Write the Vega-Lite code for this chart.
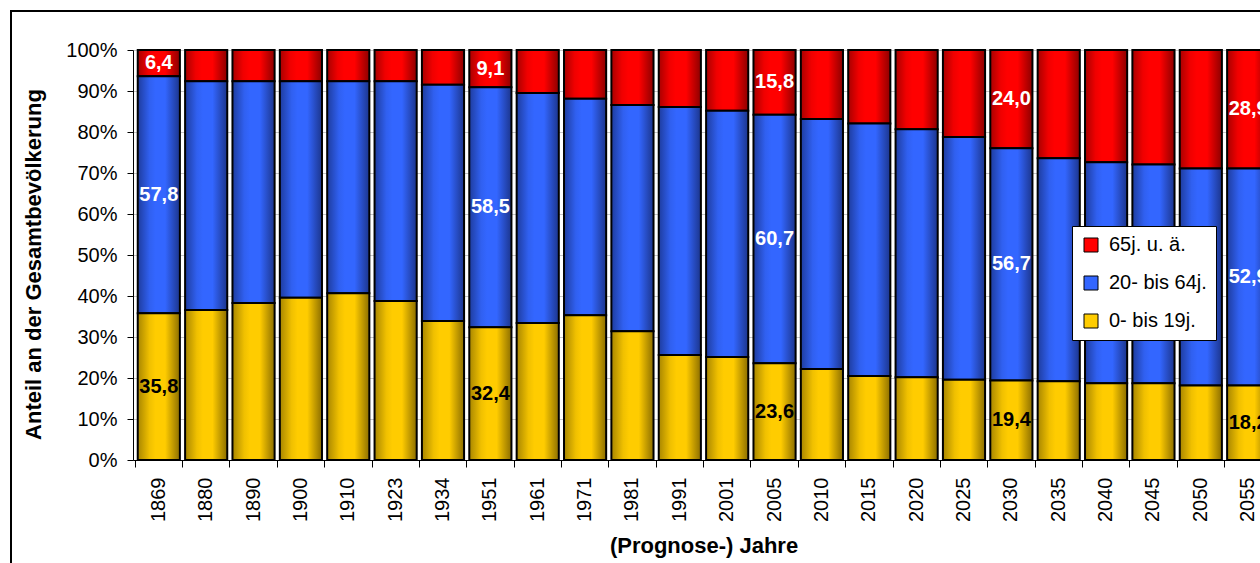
{
  "$schema": "https://vega.github.io/schema/vega-lite/v6.json",
  "autosize": {"type": "none"},
  "padding": {"left": 11, "top": 11, "right": -11, "bottom": -8},
  "width": 1260,
  "height": 560,
  "background": "white",
  "config": {
    "font": "Liberation Sans",
    "locale": {"number": {"decimal": ",", "thousands": ".", "grouping": [3], "currency": ["", " €"]}},
    "view": {"stroke": "black", "strokeWidth": 2, "fill": "white"}
  },
  "data": {"values": [
    {"year": "1869", "group": "0- bis 19j.", "value": 35.8}, {"year": "1869", "group": "20- bis 64j.", "value": 57.8}, {"year": "1869", "group": "65j. u. ä.", "value": 6.4},
    {"year": "1880", "group": "0- bis 19j.", "value": 36.6}, {"year": "1880", "group": "20- bis 64j.", "value": 55.8}, {"year": "1880", "group": "65j. u. ä.", "value": 7.6},
    {"year": "1890", "group": "0- bis 19j.", "value": 38.3}, {"year": "1890", "group": "20- bis 64j.", "value": 54.1}, {"year": "1890", "group": "65j. u. ä.", "value": 7.6},
    {"year": "1900", "group": "0- bis 19j.", "value": 39.6}, {"year": "1900", "group": "20- bis 64j.", "value": 52.8}, {"year": "1900", "group": "65j. u. ä.", "value": 7.6},
    {"year": "1910", "group": "0- bis 19j.", "value": 40.7}, {"year": "1910", "group": "20- bis 64j.", "value": 51.7}, {"year": "1910", "group": "65j. u. ä.", "value": 7.6},
    {"year": "1923", "group": "0- bis 19j.", "value": 38.8}, {"year": "1923", "group": "20- bis 64j.", "value": 53.6}, {"year": "1923", "group": "65j. u. ä.", "value": 7.6},
    {"year": "1934", "group": "0- bis 19j.", "value": 33.9}, {"year": "1934", "group": "20- bis 64j.", "value": 57.6}, {"year": "1934", "group": "65j. u. ä.", "value": 8.5},
    {"year": "1951", "group": "0- bis 19j.", "value": 32.4}, {"year": "1951", "group": "20- bis 64j.", "value": 58.5}, {"year": "1951", "group": "65j. u. ä.", "value": 9.1},
    {"year": "1961", "group": "0- bis 19j.", "value": 33.4}, {"year": "1961", "group": "20- bis 64j.", "value": 56.1}, {"year": "1961", "group": "65j. u. ä.", "value": 10.5},
    {"year": "1971", "group": "0- bis 19j.", "value": 35.3}, {"year": "1971", "group": "20- bis 64j.", "value": 52.8}, {"year": "1971", "group": "65j. u. ä.", "value": 11.9},
    {"year": "1981", "group": "0- bis 19j.", "value": 31.4}, {"year": "1981", "group": "20- bis 64j.", "value": 55.2}, {"year": "1981", "group": "65j. u. ä.", "value": 13.4},
    {"year": "1991", "group": "0- bis 19j.", "value": 25.6}, {"year": "1991", "group": "20- bis 64j.", "value": 60.5}, {"year": "1991", "group": "65j. u. ä.", "value": 13.9},
    {"year": "2001", "group": "0- bis 19j.", "value": 25.1}, {"year": "2001", "group": "20- bis 64j.", "value": 60.1}, {"year": "2001", "group": "65j. u. ä.", "value": 14.8},
    {"year": "2005", "group": "0- bis 19j.", "value": 23.6}, {"year": "2005", "group": "20- bis 64j.", "value": 60.7}, {"year": "2005", "group": "65j. u. ä.", "value": 15.8},
    {"year": "2010", "group": "0- bis 19j.", "value": 22.2}, {"year": "2010", "group": "20- bis 64j.", "value": 61.0}, {"year": "2010", "group": "65j. u. ä.", "value": 16.8},
    {"year": "2015", "group": "0- bis 19j.", "value": 20.5}, {"year": "2015", "group": "20- bis 64j.", "value": 61.6}, {"year": "2015", "group": "65j. u. ä.", "value": 17.9},
    {"year": "2020", "group": "0- bis 19j.", "value": 20.2}, {"year": "2020", "group": "20- bis 64j.", "value": 60.5}, {"year": "2020", "group": "65j. u. ä.", "value": 19.3},
    {"year": "2025", "group": "0- bis 19j.", "value": 19.6}, {"year": "2025", "group": "20- bis 64j.", "value": 59.2}, {"year": "2025", "group": "65j. u. ä.", "value": 21.2},
    {"year": "2030", "group": "0- bis 19j.", "value": 19.4}, {"year": "2030", "group": "20- bis 64j.", "value": 56.7}, {"year": "2030", "group": "65j. u. ä.", "value": 24.0},
    {"year": "2035", "group": "0- bis 19j.", "value": 19.2}, {"year": "2035", "group": "20- bis 64j.", "value": 54.4}, {"year": "2035", "group": "65j. u. ä.", "value": 26.4},
    {"year": "2040", "group": "0- bis 19j.", "value": 18.7}, {"year": "2040", "group": "20- bis 64j.", "value": 53.9}, {"year": "2040", "group": "65j. u. ä.", "value": 27.4},
    {"year": "2045", "group": "0- bis 19j.", "value": 18.7}, {"year": "2045", "group": "20- bis 64j.", "value": 53.4}, {"year": "2045", "group": "65j. u. ä.", "value": 27.9},
    {"year": "2050", "group": "0- bis 19j.", "value": 18.2}, {"year": "2050", "group": "20- bis 64j.", "value": 52.9}, {"year": "2050", "group": "65j. u. ä.", "value": 28.9},
    {"year": "2055", "group": "0- bis 19j.", "value": 18.2}, {"year": "2055", "group": "20- bis 64j.", "value": 52.9}, {"year": "2055", "group": "65j. u. ä.", "value": 28.9}
  ]},
  "transform": [
    {"stack": "value", "groupby": ["year"], "sort": [{"field": "group", "order": "ascending"}], "offset": "normalize", "as": ["y0", "y1"]}
  ],
  "encoding": {
    "x": {
      "field": "year", "type": "ordinal",
      "scale": {"range": [122, 1263], "paddingInner": 0.11, "paddingOuter": 0.1},
      "axis": {
        "title": "(Prognose-) Jahre", "offset": -111, "labelAngle": -90, "labelFontSize": 20, "labelColor": "black",
        "labelPadding": 10, "tickSize": 7, "tickColor": "black", "domainColor": "black", "bandPosition": -0.06,
        "titleFontSize": 22, "titleFontWeight": "bold", "titleColor": "black", "titlePadding": 14, "grid": false
      }
    },
    "y": {
      "field": "y0", "type": "quantitative",
      "scale": {"domain": [0, 1], "range": [449, 39], "nice": false},
      "axis": {
        "title": "Anteil an der Gesamtbevölkerung", "offset": -122, "format": ".0%",
        "values": [0, 0.1, 0.2, 0.3, 0.4, 0.5, 0.6, 0.7, 0.8, 0.9, 1],
        "labelFontSize": 20, "labelColor": "black", "labelPadding": 10, "tickSize": 6, "tickColor": "black",
        "domainColor": "black", "grid": true, "gridColor": "#c8c8c8",
        "titleFontSize": 22, "titleFontWeight": "bold", "titleColor": "black", "titlePadding": 20, "titleY": 253
      }
    },
    "y2": {"field": "y1"}
  },
  "layer": [
    {
      "mark": {"type": "bar"},
      "encoding": {
        "color": {
          "field": "group", "type": "nominal",
          "scale": {"domain": ["65j. u. ä.", "20- bis 64j.", "0- bis 19j."], "range": ["#FF0000", "#3366FF", "#FFCC00"]},
          "legend": {
            "title": null, "orient": "none", "legendX": 1061, "legendY": 215, "direction": "vertical",
            "fillColor": "white", "strokeColor": "black", "padding": 9,
            "symbolType": "square", "symbolSize": 196, "symbolStrokeColor": "black", "symbolStrokeWidth": 1,
            "labelFontSize": 20, "labelColor": "black", "labelOffset": 8, "rowPadding": 18, "labelLimit": 250
          }
        }
      }
    },
    {
      "transform": [{"filter": {"field": "group", "equal": "65j. u. ä."}}],
      "mark": {
        "type": "bar", "stroke": "black", "strokeWidth": 2,
        "fill": {
          "gradient": "linear", "x1": 0, "y1": 0, "x2": 1, "y2": 0,
          "stops": [
            {"offset": 0, "color": "#A80000"},
            {"offset": 0.25, "color": "#F00000"},
            {"offset": 0.4, "color": "#FF0000"},
            {"offset": 0.65, "color": "#FF0000"},
            {"offset": 1, "color": "#8C0000"}
          ]
        }
      }
    },
    {
      "transform": [{"filter": {"field": "group", "equal": "20- bis 64j."}}],
      "mark": {
        "type": "bar", "stroke": "black", "strokeWidth": 2,
        "fill": {
          "gradient": "linear", "x1": 0, "y1": 0, "x2": 1, "y2": 0,
          "stops": [
            {"offset": 0, "color": "#1E3C9E"},
            {"offset": 0.28, "color": "#3060F0"},
            {"offset": 0.42, "color": "#3366FF"},
            {"offset": 0.65, "color": "#3366FF"},
            {"offset": 1, "color": "#1C358C"}
          ]
        }
      }
    },
    {
      "transform": [{"filter": {"field": "group", "equal": "0- bis 19j."}}],
      "mark": {
        "type": "bar", "stroke": "black", "strokeWidth": 2,
        "fill": {
          "gradient": "linear", "x1": 0, "y1": 0, "x2": 1, "y2": 0,
          "stops": [
            {"offset": 0, "color": "#A88600"},
            {"offset": 0.28, "color": "#F0C000"},
            {"offset": 0.42, "color": "#FFCC00"},
            {"offset": 0.65, "color": "#FFCC00"},
            {"offset": 1, "color": "#8C6E00"}
          ]
        }
      }
    },
    {
      "transform": [
        {"filter": {"field": "year", "oneOf": ["1869", "1951", "2005", "2030", "2055"]}},
        {"fold": ["y0", "y1"], "as": ["edge", "pos"]},
        {"aggregate": [{"op": "mean", "field": "pos", "as": "mid"}, {"op": "max", "field": "value", "as": "val"}], "groupby": ["year", "group"]}
      ],
      "mark": {"type": "text", "fontSize": 20, "fontWeight": "bold", "align": "center", "baseline": "middle"},
      "encoding": {
        "y": {"field": "mid", "type": "quantitative"},
        "y2": null,
        "text": {"field": "val", "type": "quantitative", "format": ".1f"},
        "color": {"condition": {"test": "datum.group === '0- bis 19j.'", "value": "black"}, "value": "white"}
      }
    }
  ]
}
